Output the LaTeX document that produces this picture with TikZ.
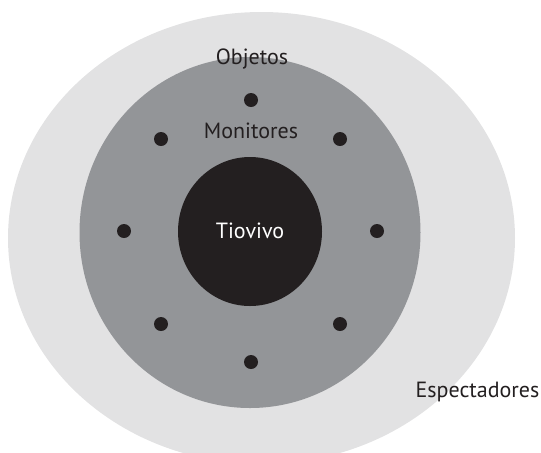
\documentclass[tikz,border=0pt]{standalone}
\usepackage{fontspec}
\setmainfont{PT Sans}
\definecolor{outerring}{HTML}{E2E2E3}
\definecolor{middlering}{HTML}{939598}
\definecolor{inkdark}{HTML}{231F20}
\tikzset{
  monitor/.style={circle, fill=inkdark, inner sep=0pt, minimum size=7pt},
  label/.style={text=inkdark, font=\fontsize{11}{13}\selectfont, inner sep=0pt},
}
\begin{document}
\begin{tikzpicture}[x=0.5pt,y=-0.5pt]
  \useasboundingbox (0,0) rectangle (541,452);
  % spectators zone, cut by the page bottom
  \begin{scope}
    \clip (0,0) rectangle (541,452);
    \fill[outerring] (261.5,238) ellipse [x radius=253.5, y radius=226];
  \end{scope}
  % monitors zone and merry-go-round
  \fill[middlering] (250,232.5) ellipse [x radius=170.5, y radius=175.5];
  \fill[inkdark] (250,231.5) ellipse [x radius=72, y radius=74.5];
  % monitors
  \node[monitor] (m1) at (251,100) {};
  \node[monitor] (m2) at (340,139) {};
  \node[monitor] (m3) at (377,231) {};
  \node[monitor] (m4) at (340,324) {};
  \node[monitor] (m5) at (251,362) {};
  \node[monitor] (m6) at (161,324) {};
  \node[monitor] (m7) at (124,231) {};
  \node[monitor] (m8) at (161,139) {};
  % labels
  \node[label] (objetos) at (252,59) {Objetos};
  \node[label] (monitores) at (251,131) {Monitores};
  \node[label, text=white] (tiovivo) at (250,231) {Tiovivo};
  \node[label] (espectadores) at (477.5,392) {Espectadores};
\end{tikzpicture}
\end{document}
